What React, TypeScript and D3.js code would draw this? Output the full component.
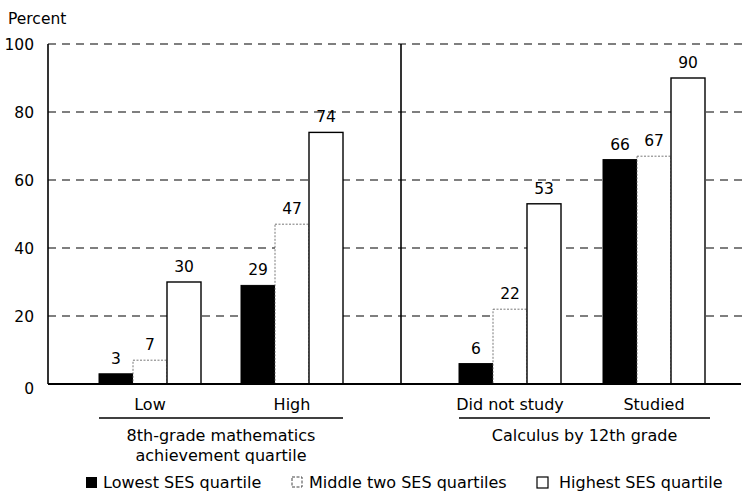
import React from "react";
import * as d3 from "d3";

const leftGroups = ["Low", "High"];
const rightGroups = ["Did not study", "Studied"];
const leftPanelTitle = ["8th-grade mathematics", "achievement quartile"];
const rightPanelTitle = ["Calculus by 12th grade"];
const seriesNames = ["Lowest SES quartile", "Middle two SES quartiles", "Highest SES quartile"];
const lowestValues = [3, 29, 6, 66];
const middleValues = [7, 47, 22, 67];
const highestValues = [30, 74, 53, 90];
const yTicks = [0, 20, 40, 60, 80, 100];

const W = 748;
const H = 493;
const FONT = "'DejaVu Sans', 'Noto Sans', sans-serif";
const FS = 15.5;
const FSL = 16;

export default function App() {
  const y = d3.scaleLinear().domain([0, 100]).range([384, 44]);
  const xLeft = d3.scalePoint<string>().domain(leftGroups).range([150, 292]);
  const xRight = d3.scalePoint<string>().domain(rightGroups).range([510, 654]);
  const sub = d3.scaleBand<string>().domain(seriesNames).range([-51, 51]).padding(0);
  const bw = sub.bandwidth();

  const groups = [...leftGroups, ...rightGroups];
  const center = (g: string) => (leftGroups.includes(g) ? xLeft(g)! : xRight(g)!);
  const seriesVals = [lowestValues, middleValues, highestValues];

  const plotLeft = 48;
  const plotRight = 745;
  const divider = 401;

  const bars: React.ReactNode[] = [];
  const labels: React.ReactNode[] = [];
  groups.forEach((g, gi) => {
    seriesNames.forEach((s, si) => {
      const v = seriesVals[si][gi];
      const x0 = center(g) + sub(s)!;
      const yt = y(v);
      const h = y(0) - yt;
      let style: any;
      if (si === 0) style = { fill: "#000", stroke: "#000", strokeWidth: 1 };
      else if (si === 1) style = { fill: "#fff", stroke: "#555", strokeWidth: 0.8, strokeDasharray: "2,1.5" };
      else style = { fill: "#fff", stroke: "#000", strokeWidth: 1.4 };
      bars.push(<rect key={`b${gi}-${si}`} x={x0} y={yt} width={bw} height={h} {...style} />);
      labels.push(
        <text key={`l${gi}-${si}`} x={x0 + bw / 2} y={yt - 10} textAnchor="middle" fontSize={FS} fill="#000">
          {v}
        </text>
      );
    });
  });

  const leftSpan = [xLeft(leftGroups[0])! - 51, xLeft(leftGroups[1])! + 51];
  const rightSpan = [xRight(rightGroups[0])! - 51, xRight(rightGroups[1])! + 56];

  const legendBoxX = [86, 292, 537];
  const legendTextX = [103, 309, 559];
  const legendY = 477;

  return (
    <svg width={W} height={H} style={{ position: "absolute", left: 0, top: 0, fontFamily: FONT }}>
      <rect width={W} height={H} fill="#fff" />
      <text x={8} y={24} fontSize={FS} fill="#000">Percent</text>
      {yTicks.map((t) => (
        <g key={t}>
          <text x={34} y={y(t) + (t === 0 ? 10 : 5.5)} textAnchor="end" fontSize={FS} fill="#000">{t}</text>
          {t > 0 && (
            <line x1={plotLeft} x2={plotRight} y1={y(t)} y2={y(t)} stroke="#000" strokeWidth={1.2} strokeDasharray="8,6" />
          )}
        </g>
      ))}
      <line x1={plotLeft} x2={plotLeft} y1={y(100)} y2={y(0)} stroke="#000" strokeWidth={1.6} />
      <line x1={divider} x2={divider} y1={y(100)} y2={y(0)} stroke="#000" strokeWidth={1.6} />
      {bars}
      {labels}
      <line x1={plotLeft} x2={741} y1={y(0)} y2={y(0)} stroke="#000" strokeWidth={1.8} />
      {leftGroups.map((g) => (
        <text key={g} x={xLeft(g)} y={410} textAnchor="middle" fontSize={FSL}>{g}</text>
      ))}
      {rightGroups.map((g) => (
        <text key={g} x={xRight(g)} y={410} textAnchor="middle" fontSize={FSL}>{g}</text>
      ))}
      <line x1={leftSpan[0]} x2={leftSpan[1]} y1={418} y2={418} stroke="#000" strokeWidth={1.4} />
      <line x1={rightSpan[0]} x2={rightSpan[1]} y1={418} y2={418} stroke="#000" strokeWidth={1.4} />
      {leftPanelTitle.map((t, i) => (
        <text key={t} x={(leftSpan[0] + leftSpan[1]) / 2} y={441 + i * 20} textAnchor="middle" fontSize={FSL}>{t}</text>
      ))}
      {rightPanelTitle.map((t, i) => (
        <text key={t} x={(rightSpan[0] + rightSpan[1]) / 2} y={441 + i * 20} textAnchor="middle" fontSize={FSL}>{t}</text>
      ))}
      {seriesNames.map((s, i) => {
        const lx = legendBoxX[i];
        return (
          <g key={s}>
            {i === 0 && <rect x={lx} y={legendY} width={11} height={11} fill="#000" />}
            {i === 1 && <rect x={lx} y={legendY} width={10} height={10} fill="#fff" stroke="#444" strokeWidth={1} strokeDasharray="3,1.5" />}
            {i === 2 && <rect x={lx} y={legendY} width={11} height={11} fill="#fff" stroke="#000" strokeWidth={1.2} />}
            <text x={legendTextX[i]} y={legendY + 11} fontSize={FSL}>{s}</text>
          </g>
        );
      })}
    </svg>
  );
}
